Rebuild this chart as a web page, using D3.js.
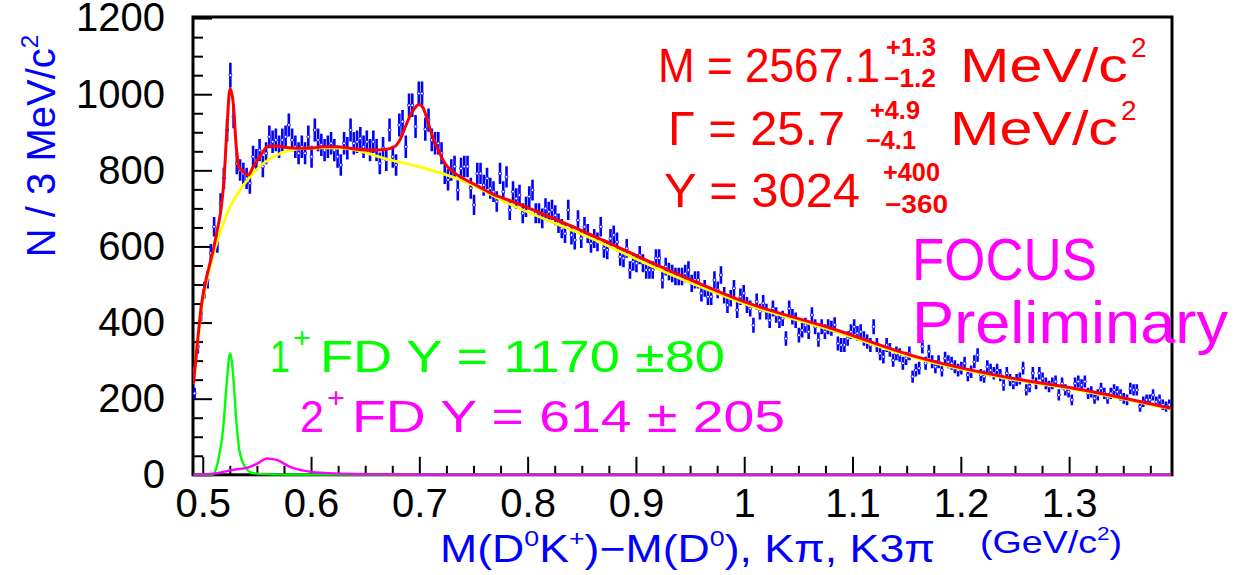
<!DOCTYPE html>
<html>
<head>
<meta charset="utf-8">
<script src="https://cdn.jsdelivr.net/npm/d3@7/dist/d3.min.js"></script>
<style>
body { margin: 0; background: #fff; }
svg text { font-family: "Liberation Sans", Arial, sans-serif; }
</style>
</head>
<body>
<svg id="chart" width="1240" height="575"></svg>
<script>
// histogram: 3 MeV bins starting at 0.491 GeV
var binLow = 0.491, binWidth = 0.003;
var counts = [
  214, 337, 424, 485, 512, 582, 652, 608, 713, 779, 906, 1050, 941, 818, 801, 792, 779, 766, 836, 827,
  853, 810, 845, 888, 875, 880, 862, 880, 888, 919, 880, 862, 845, 862, 845, 888, 836, 906, 880, 867,
  853, 862, 871, 853, 836, 814, 871,
  858, 906, 871, 875, 884, 862, 875, 853, 875, 853, 818, 858, 827, 906, 836, 814, 919, 928, 862, 971,
  971, 915, 1002, 1002, 908, 932, 880, 871, 871, 845, 792, 775, 801, 810, 748, 805, 810, 810, 753, 709,
  792, 792, 761, 779, 753, 744, 718, 792, 744, 783,
  696, 744, 726, 735, 687, 704, 731, 748, 687, 687, 674, 700, 691, 696, 682, 661, 647, 634, 696, 630,
  617, 669, 621, 652, 634, 608, 621, 612, 652, 595, 591, 621, 630, 612, 573, 569, 595, 538, 560, 556,
  577, 556, 538, 538, 538, 569, 569, 512, 547,
  534, 529, 521, 521, 521, 529, 538, 503, 512, 512, 477, 490, 468, 468, 512, 486, 525, 472, 446, 464,
  490, 433, 468, 477, 446, 437, 393, 455, 429, 451, 429, 406, 437, 420, 406, 411, 358, 437, 415, 406,
  367, 380, 393, 376, 420, 389, 355, 389, 376, 389, 385,
  394, 345, 341, 341, 358, 376, 389, 372, 376, 358, 350, 341, 389, 341, 319, 310, 341, 328, 301, 319,
  315, 293, 306, 319, 258, 275, 280, 337, 293, 324, 297, 284, 297, 275, 306, 297, 293, 284, 275, 280,
  293, 262, 271, 297, 315, 262, 258, 284, 275, 267, 275, 262,
  236, 267, 249, 240, 249, 253, 280, 223, 232, 267, 240, 267, 253, 240, 232, 240, 245, 210, 240, 223,
  218, 197, 240, 245, 236, 245, 214, 218, 201, 210, 227, 214, 201, 214, 223, 218, 210, 201, 197, 227,
  223, 223, 179, 192, 197, 197, 210, 192, 197, 184, 179, 184
];

// total fit (red)
var fitMass = [0.4915, 0.495, 0.499, 0.503, 0.5067, 0.5104, 0.5134, 0.517, 0.5195, 0.5221, 0.5252, 0.5282,
  0.531, 0.5335, 0.5365, 0.539, 0.5421, 0.5467, 0.5529, 0.5596, 0.5683, 0.5775, 0.5868, 0.599, 0.6113,
  0.6237, 0.636, 0.6437, 0.656, 0.6683, 0.676, 0.6821, 0.6883, 0.6944, 0.6997, 0.7037, 0.7083, 0.7129,
  0.7175, 0.7237, 0.733, 0.7422, 0.7545, 0.7668, 0.7822, 0.856, 0.9299, 1.0038, 1.0823, 1.1593, 1.2392,
  1.3131, 1.3940];
var fitValues = [240, 345, 450, 512, 556, 600, 643, 700, 770, 897, 1015, 976,
  860, 808, 800, 792, 788, 810, 836, 862, 864, 860, 858, 858, 862,
  862, 858, 855, 853, 855, 860, 880, 923, 958, 973, 963, 923, 884,
  853, 818, 792, 776, 758, 739, 722, 634, 538, 451, 383, 310, 258,
  223, 175];

// background (yellow)
var bkgMass = [0.4915, 0.495, 0.499, 0.503, 0.5067, 0.5104, 0.5128, 0.519, 0.5252, 0.5344, 0.5436, 0.5559,
  0.5683, 0.5806, 0.596, 0.6113, 0.6314, 0.6683, 0.7052, 0.7422, 0.7822, 0.856, 0.9299, 1.0038, 1.0823,
  1.1593, 1.2392, 1.3131, 1.3940];
var bkgValues = [240, 340, 440, 500, 545, 585, 608, 660, 704, 748, 783, 818,
  840, 853, 858, 859, 858, 831, 805, 770, 713, 625, 529, 446, 378,
  306, 255, 220, 173];

// 1+ feed-down (green)
var fd1Mass = [0.4915, 0.508, 0.5098, 0.5144, 0.519, 0.5221, 0.5252, 0.5282, 0.5307, 0.5338, 0.539, 0.5467,
  0.56, 0.58, 1.3940];
var fd1Values = [0, 0, 2, 39, 126, 240, 319, 258, 153, 65, 21, 4, 1, 0, 0];

// 2+ feed-down (magenta)
var fd2Mass = [0.4915, 0.51, 0.528, 0.5436, 0.552, 0.559, 0.5683, 0.5806, 0.5929, 0.6113, 0.64, 0.667,
  0.72, 1.3940];
var fd2Values = [0, 3, 13, 21, 32, 43, 39, 21, 11, 5, 2, 1, 0, 0];

var xTicks = [0.5, 0.6, 0.7, 0.8, 0.9, 1.0, 1.1, 1.2, 1.3];
var xTickLabels = ["0.5", "0.6", "0.7", "0.8", "0.9", "1", "1.1", "1.2", "1.3"];
var yTicks = [0, 200, 400, 600, 800, 1000, 1200];
var yTickLabels = ["0", "200", "400", "600", "800", "1000", "1200"];

var svg = d3.select("#chart");
var plotL = 193, plotR = 1172, plotT = 17, plotB = 474.8;

var x = d3.scaleLinear().domain([0.491, 1.395]).range([plotL, plotR]);
var y = d3.scaleLinear().domain([0, 1200]).range([plotB, 18.1]);

svg.append("clipPath").attr("id", "plotclip")
  .append("rect").attr("x", plotL).attr("y", plotT).attr("width", plotR - plotL).attr("height", plotB - plotT + 1);

// axes
var xMinor = d3.range(0.5, 1.395, 0.025).filter(function (v) {
  return Math.abs(Math.round(v * 10) - v * 10) > 0.01;
});
var yMinor = d3.range(0, 1201, 50).filter(function (v) { return v % 200 !== 0; });

svg.append("g").attr("transform", "translate(0," + plotB + ")")
  .call(d3.axisBottom(x).tickValues(xMinor).tickSize(-9).tickFormat(""))
  .call(function (g) { g.select(".domain").remove(); });

svg.append("g").attr("transform", "translate(0," + plotB + ")")
  .call(d3.axisBottom(x).tickValues(xTicks).tickSize(-18).tickPadding(14)
    .tickFormat(function (d, i) { return xTickLabels[i]; }))
  .call(function (g) { g.select(".domain").remove(); });

svg.append("g").attr("transform", "translate(" + plotL + ",0)")
  .call(d3.axisLeft(y).tickValues(yMinor).tickSize(-10).tickFormat(""))
  .call(function (g) { g.select(".domain").remove(); });

svg.append("g").attr("transform", "translate(" + plotL + ",0)")
  .call(d3.axisLeft(y).tickValues(yTicks).tickSize(-19).tickPadding(28)
    .tickFormat(function (d, i) { return yTickLabels[i]; }))
  .call(function (g) { g.select(".domain").remove(); });

svg.selectAll(".tick line").attr("stroke", "#000").attr("stroke-width", 2);
svg.selectAll(".tick text").attr("fill", "#000")
  .style("font-family", "'Liberation Sans', Arial, sans-serif").style("font-size", "40px");

svg.append("rect").attr("x", plotL).attr("y", plotT)
  .attr("width", plotR - plotL).attr("height", plotB - plotT)
  .attr("fill", "none").attr("stroke", "#000").attr("stroke-width", 3);

var plot = svg.append("g").attr("clip-path", "url(#plotclip)");

// data points with poisson error bars
var bins = counts.map(function (c, i) {
  return { m: binLow + binWidth * (i + 0.5), n: c };
});

plot.selectAll("line.err").data(bins).enter().append("line")
  .attr("class", "err")
  .attr("x1", function (d) { return x(d.m); })
  .attr("x2", function (d) { return x(d.m); })
  .attr("y1", function (d) { return y(d.n - Math.sqrt(d.n)); })
  .attr("y2", function (d) { return y(d.n + Math.sqrt(d.n)); })
  .attr("stroke", "#0000ff")
  .attr("stroke-width", 2.6);

plot.selectAll("circle.pt").data(bins).enter().append("circle")
  .attr("class", "pt")
  .attr("cx", function (d) { return x(d.m); })
  .attr("cy", function (d) { return y(d.n); })
  .attr("r", 1.5)
  .attr("fill", "#ffffff")
  .attr("stroke", "#0000ff")
  .attr("stroke-width", 0.9);

function curve(ms, vs, color, width) {
  var pts = ms.map(function (m, i) { return [m, vs[i]]; });
  var line = d3.line()
    .x(function (d) { return x(d[0]); })
    .y(function (d) { return y(d[1]); })
    .curve(d3.curveMonotoneX);
  plot.append("path").datum(pts)
    .attr("d", line)
    .attr("fill", "none")
    .attr("stroke", color)
    .attr("stroke-width", width)
    .attr("stroke-linejoin", "round");
}

curve(bkgMass, bkgValues, "#ffff00", 2.8);
curve(fitMass, fitValues, "#ff0000", 3);
curve(fd1Mass, fd1Values, "#00ff00", 2.4);
curve(fd2Mass, fd2Values, "#ff00ff", 2.4);

// text helpers
function label(x0, y0, str, size, color, len, weight) {
  var t = svg.append("text").attr("x", x0).attr("y", y0).attr("fill", color)
    .style("font-size", size + "px").style("font-weight", weight || "normal").text(str);
  if (len) t.attr("textLength", len).attr("lengthAdjust", "spacingAndGlyphs");
  return t;
}
function rich(x0, y0, parts, size, color, extra) {
  var t = svg.append("text").attr("x", x0).attr("y", y0).attr("fill", color)
    .style("font-size", size + "px");
  var shift = 0;
  parts.forEach(function (p) {
    var s = p.sup ? -0.42 * size : 0;
    t.append("tspan").attr("dy", s - shift)
      .style("font-size", (p.sup ? 0.6 * size : size) + "px")
      .text(p.t);
    shift = s;
  });
  if (extra) extra(t);
  return t;
}

// axis titles
rich(0, 0, [{ t: "N / 3 MeV/c" }, { t: "2", sup: true }], 40, "#0000ff", function (t) {
  t.attr("transform", "translate(55,146) rotate(-90)").attr("text-anchor", "middle");
});
rich(440, 562, [{ t: "M(D" }, { t: "0", sup: true }, { t: "K" }, { t: "+", sup: true }, { t: ")\u2212M(D" },
  { t: "0", sup: true }, { t: "), K\u03c0, K3\u03c0" }], 38, "#0000ff", function (t) {
  t.attr("textLength", 495).attr("lengthAdjust", "spacingAndGlyphs");
});
rich(980, 553, [{ t: "(GeV/c" }, { t: "2", sup: true }, { t: ")" }], 32, "#0000ff", function (t) {
  t.attr("textLength", 142).attr("lengthAdjust", "spacingAndGlyphs");
});

// fit results
var red = "#ff0000";
label(658, 82, "M = 2567.1", 48, red, 222);
label(886, 56, "+1.3", 25, red, 50, "bold");
label(884, 87, "\u22121.2", 25, red, 52, "bold");
label(960, 82, "MeV/c", 48, red, 168);
label(1131, 57, "2", 28, red);

label(668, 145, "\u0393 = 25.7", 48, red, 177);
label(870, 119, "+4.9", 25, red, 50, "bold");
label(866, 149, "\u22124.1", 25, red, 50, "bold");
label(950, 145, "MeV/c", 48, red, 168);
label(1121, 120, "2", 28, red);

label(664, 207, "Y = 3024", 48, red, 196);
label(883, 181, "+400", 25, red, 57, "bold");
label(885, 213, "\u2212360", 25, red, 63, "bold");

label(912, 280, "FOCUS", 60, "#ff00ff", 185);
label(912, 343, "Preliminary", 60, "#ff00ff", 316);

label(270, 372, "1", 44, "#00ff00", 20);
label(293, 347, "+", 28, "#00ff00", 18);
label(320, 372, "FD Y = 1170 \u00b180", 44, "#00ff00", 405);
label(300, 432, "2", 44, "#ff00ff", 24);
label(327, 407, "+", 28, "#ff00ff", 18);
label(352, 432, "FD Y = 614 \u00b1 205", 44, "#ff00ff", 433);
</script>
</body>
</html>
